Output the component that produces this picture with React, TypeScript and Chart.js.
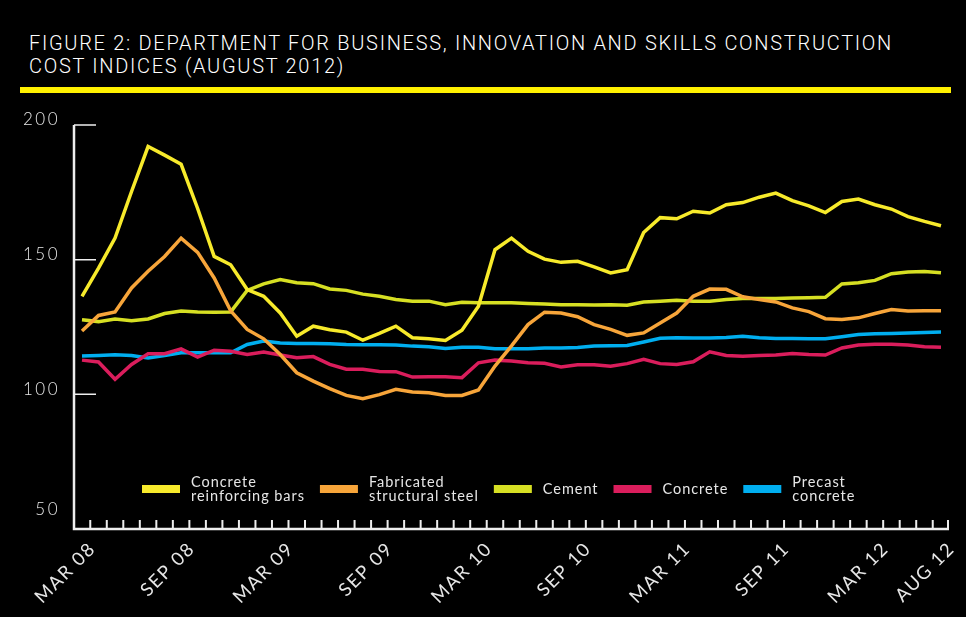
import React, { useEffect, useRef } from "react";
import { Chart, registerables } from "chart.js";

Chart.register(...registerables);

// ---- data ----
const categories = [
  "MAR 08", "APR 08", "MAY 08", "JUN 08", "JUL 08", "AUG 08", "SEP 08", "OCT 08", "NOV 08", "DEC 08",
  "JAN 09", "FEB 09", "MAR 09", "APR 09", "MAY 09", "JUN 09", "JUL 09", "AUG 09", "SEP 09", "OCT 09", "NOV 09", "DEC 09",
  "JAN 10", "FEB 10", "MAR 10", "APR 10", "MAY 10", "JUN 10", "JUL 10", "AUG 10", "SEP 10", "OCT 10", "NOV 10", "DEC 10",
  "JAN 11", "FEB 11", "MAR 11", "APR 11", "MAY 11", "JUN 11", "JUL 11", "AUG 11", "SEP 11", "OCT 11", "NOV 11", "DEC 11",
  "JAN 12", "FEB 12", "MAR 12", "APR 12", "MAY 12", "JUN 12", "JUL 12",
];

const shownTickIndex = [0, 6, 12, 18, 24, 30, 36, 42, 48, 52];
const shownTickText = ["MAR 08", "SEP 08", "MAR 09", "SEP 09", "MAR 10", "SEP 10", "MAR 11", "SEP 11", "MAR 12", "AUG 12"];

const yTickValues = [200, 150, 100, 50];

const reinforcingBars = [
  136.4, 146.9, 158.0, 175.3, 192.0, 188.8, 185.4, 169.0, 151.2, 148.1,
  138.9, 136.4, 130.2, 121.6, 125.3, 124.0, 123.1, 120.1, 122.6, 125.3,
  121.0, 120.6, 120.0, 123.8, 132.7, 153.7, 158.0, 153.1, 150.2, 149.0,
  149.4, 147.3, 145.1, 146.3, 160.1, 165.6, 165.2, 168.0, 167.3, 170.4,
  171.2, 173.2, 174.7, 171.9, 170.0, 167.5, 171.6, 172.5, 170.4, 168.8,
  166.0, 164.2, 162.6,
];

const structuralSteel = [
  123.5, 129.3, 130.6, 139.5, 145.7, 151.2, 158.0, 152.7, 143.2, 131.0,
  124.1, 120.6, 114.8, 108.0, 104.9, 102.1, 99.6, 98.4, 99.9, 101.9,
  100.9, 100.6, 99.6, 99.6, 101.6, 110.5, 118.0, 125.9, 130.5, 130.2,
  128.8, 125.9, 124.1, 121.9, 122.8, 126.5, 130.2, 136.4, 139.1, 139.0,
  136.2, 135.2, 134.3, 132.1, 130.7, 128.1, 127.8, 128.4, 130.0, 131.5,
  130.9, 131.0, 131.0,
];

const cement = [
  127.7, 127.0, 128.0, 127.3, 128.0, 130.0, 130.9, 130.6, 130.5, 130.6,
  138.6, 141.0, 142.6, 141.4, 141.1, 139.1, 138.6, 137.2, 136.4, 135.2,
  134.6, 134.6, 133.3, 134.2, 134.0, 134.0, 134.0, 133.7, 133.5, 133.3,
  133.3, 133.2, 133.3, 133.1, 134.3, 134.6, 134.9, 134.6, 134.6, 135.2,
  135.6, 135.6, 135.6, 135.8, 135.9, 136.0, 141.0, 141.4, 142.3, 144.8,
  145.4, 145.6, 145.1,
];

const concrete = [
  112.7, 112.0, 105.6, 111.1, 115.1, 115.1, 116.9, 113.8, 116.4, 116.0,
  114.8, 115.7, 114.6, 113.6, 114.0, 111.1, 109.3, 109.3, 108.5, 108.4,
  106.4, 106.5, 106.5, 106.2, 111.7, 112.7, 112.4, 111.7, 111.5, 110.2,
  111.0, 111.0, 110.4, 111.4, 113.0, 111.4, 111.1, 112.1, 115.8, 114.4,
  114.1, 114.4, 114.6, 115.2, 114.8, 114.6, 117.2, 118.3, 118.6, 118.6,
  118.3, 117.7, 117.5,
];

const precastConcrete = [
  114.2, 114.4, 114.7, 114.4, 113.5, 114.4, 115.4, 115.4, 115.4, 115.4,
  118.5, 119.8, 119.1, 118.9, 118.9, 118.8, 118.5, 118.4, 118.4, 118.3,
  117.9, 117.7, 117.0, 117.5, 117.5, 116.9, 116.9, 116.9, 117.2, 117.2,
  117.4, 117.9, 118.0, 118.1, 119.4, 120.8, 121.0, 120.9, 120.9, 121.1,
  121.6, 121.0, 120.7, 120.7, 120.6, 120.6, 121.4, 122.2, 122.5, 122.6,
  122.8, 123.0, 123.1,
];

const seriesNames = [
  ["Concrete", "reinforcing bars"],
  ["Fabricated", "structural steel"],
  ["Cement"],
  ["Concrete"],
  ["Precast", "concrete"],
];
const seriesValues = [reinforcingBars, structuralSteel, cement, concrete, precastConcrete];
const seriesColors = ["#F7EA2B", "#F7A53A", "#D6DF23", "#DA1D5C", "#00AEEF"];

const titleLines = [
  "FIGURE 2: DEPARTMENT FOR BUSINESS, INNOVATION AND SKILLS CONSTRUCTION",
  "COST INDICES (AUGUST 2012)",
];

// ---- styling ----
const FONT = "Lato, 'Open Sans', sans-serif";
const AXIS_COLOR = "#eeeeee";
const TEXT_COLOR = "#e6e6e6";

const decorPlugin = {
  id: "decor",
  beforeDatasetsDraw(chart: any) {
    const { ctx, chartArea, scales } = chart;
    const xs = scales.x;
    const ys = scales.y;
    const axisX = chartArea.left - 8;
    const axisRight = chartArea.right + 8;
    const yTop = ys.getPixelForValue(yTickValues[0]);
    const yBottom = ys.getPixelForValue(yTickValues[yTickValues.length - 1]);

    ctx.save();
    ctx.strokeStyle = AXIS_COLOR;
    ctx.lineCap = "butt";
    // axes
    ctx.lineWidth = 2.5;
    ctx.beginPath();
    ctx.moveTo(axisX, yTop);
    ctx.lineTo(axisX, yBottom);
    ctx.lineTo(axisRight, yBottom);
    ctx.stroke();

    // y ticks
    ctx.lineWidth = 1.5;
    ctx.beginPath();
    yTickValues.slice(0, -1).forEach((v) => {
      const py = ys.getPixelForValue(v);
      ctx.moveTo(axisX, py);
      ctx.lineTo(axisX + 22, py);
    });
    ctx.stroke();

    // x ticks (between months) + end tick
    ctx.lineWidth = 2;
    ctx.beginPath();
    for (let i = 0; i < categories.length - 1; i++) {
      const px = (xs.getPixelForValue(i) + xs.getPixelForValue(i + 1)) / 2;
      ctx.moveTo(px, yBottom);
      ctx.lineTo(px, yBottom - 9);
    }
    ctx.moveTo(axisRight - 1, yBottom);
    ctx.lineTo(axisRight - 1, yBottom - 9);
    ctx.stroke();

    // y labels
    ctx.fillStyle = TEXT_COLOR;
    ctx.font = `300 17px ${FONT}`;
    (ctx as any).letterSpacing = "2.5px";
    ctx.textAlign = "right";
    ctx.textBaseline = "middle";
    yTickValues.forEach((v, k) => {
      const py = ys.getPixelForValue(v);
      const off = k === yTickValues.length - 1 ? 19 : 5;
      ctx.fillText(String(v), axisX - 14, py - off);
    });

    // x labels
    ctx.font = `400 18.5px ${FONT}`;
    (ctx as any).letterSpacing = "1.6px";
    shownTickIndex.forEach((idx, k) => {
      const px = xs.getPixelForValue(idx);
      ctx.save();
      ctx.translate(px + 4, yBottom + 10);
      ctx.rotate(-Math.PI / 4);
      ctx.textAlign = "right";
      ctx.textBaseline = "top";
      ctx.fillText(shownTickText[k], 0, 0);
      ctx.restore();
    });
    ctx.restore();
  },
  afterDatasetsDraw(chart: any) {
    const { ctx, chartArea } = chart;
    const cy = chartArea.bottom - 40;
    let lx = chartArea.left + 60;
    ctx.save();
    ctx.font = `400 14.5px ${FONT}`;
    (ctx as any).letterSpacing = "0.95px";
    ctx.textAlign = "left";
    ctx.textBaseline = "middle";
    seriesNames.forEach((lines, k) => {
      ctx.fillStyle = seriesColors[k];
      ctx.fillRect(lx, cy - 4, 38, 8);
      const tx = lx + 49;
      ctx.fillStyle = TEXT_COLOR;
      let w = 0;
      if (lines.length === 1) {
        ctx.fillText(lines[0], tx, cy);
        w = ctx.measureText(lines[0]).width;
      } else {
        lines.forEach((t, j) => {
          ctx.fillText(t, tx, cy + (j === 0 ? -7 : 7));
          w = Math.max(w, ctx.measureText(t).width);
        });
      }
      lx = tx + w + 15;
    });
    ctx.restore();
  },
};

export default function App() {
  const canvasRef = useRef<HTMLCanvasElement | null>(null);

  useEffect(() => {
    const canvas = canvasRef.current;
    if (!canvas) return;
    const chart = new Chart(canvas, {
      type: "line",
      data: {
        labels: categories,
        datasets: seriesValues.map((vals, k) => ({
          label: seriesNames[k].join(" "),
          data: vals,
          borderColor: seriesColors[k],
          backgroundColor: seriesColors[k],
          borderWidth: 3.5,
          pointRadius: 0,
          tension: 0,
          fill: false,
        })),
      },
      options: {
        responsive: false,
        animation: false,
        layout: { padding: { left: 82, right: 25, top: 125, bottom: 88 } },
        plugins: { legend: { display: false }, tooltip: { enabled: false } },
        scales: {
          x: { type: "category", display: false, offset: false },
          y: { type: "linear", display: false, min: 50, max: 200 },
        },
      },
      plugins: [decorPlugin],
    });
    return () => chart.destroy();
  }, []);

  return (
    <div
      style={{
        position: "fixed",
        left: 0,
        top: 0,
        width: 966,
        height: 617,
        background: "#000",
        overflow: "hidden",
      }}
    >
      <div
        style={{
          position: "absolute",
          left: 29,
          top: 32,
          color: "#ffffff",
          fontFamily: "Roboto, sans-serif",
          fontWeight: 300,
          fontSize: 20,
          lineHeight: "23px",
          letterSpacing: "1.7px",
          whiteSpace: "nowrap",
        }}
      >
        {titleLines.map((t) => (
          <div key={t}>{t}</div>
        ))}
      </div>
      <div
        style={{
          position: "absolute",
          left: 20,
          top: 87,
          width: 931,
          height: 6,
          background: "#FFF100",
        }}
      />
      <canvas
        ref={canvasRef}
        width={966}
        height={617}
        style={{ position: "absolute", left: 0, top: 0, width: 966, height: 617 }}
      />
    </div>
  );
}
